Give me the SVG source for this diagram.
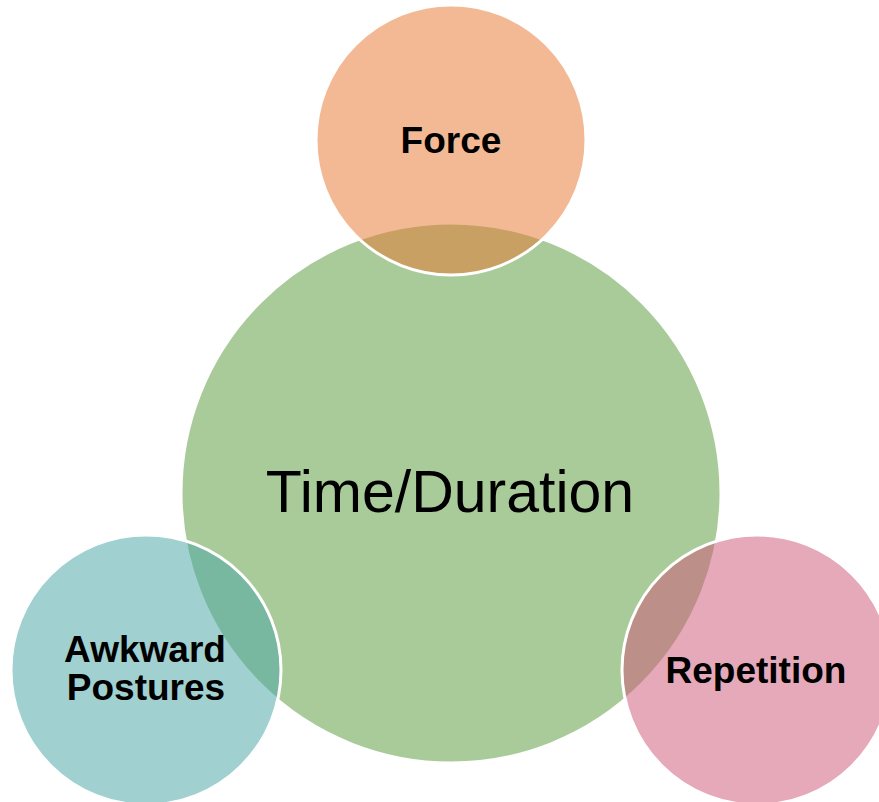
<svg xmlns="http://www.w3.org/2000/svg" width="879" height="802" viewBox="0 0 879 802">
<style>
.sat{stroke:#FFFFFF;stroke-width:3;fill-opacity:0.53}
.lbl{font-family:"Liberation Sans",Arial,sans-serif;font-weight:bold;font-size:37px;fill:#000000;text-anchor:middle}
.main{font-family:"Liberation Sans",Arial,sans-serif;font-size:59px;fill:#000000;text-anchor:middle}
</style>
<rect width="879" height="802" fill="#FFFFFF"/>
<g id="connectors"></g>
<g id="time-duration">
<circle cx="451" cy="493" r="270" fill="#A9CB99" stroke="#FFFFFF" stroke-width="3"/>
<text class="main" x="450" y="512">Time/Duration</text>
</g>
<g id="force">
<circle class="sat" cx="451" cy="140" r="135" fill="rgb(230,123,53)"/>
<text class="lbl" x="451" y="153">Force</text>
</g>
<g id="awkward-postures">
<circle class="sat" cx="146" cy="670" r="135" fill="rgb(78,166,166)"/>
<text class="lbl" x="145" y="662">Awkward</text>
<text class="lbl" x="146" y="700">Postures</text>
</g>
<g id="repetition">
<circle class="sat" cx="757" cy="670" r="135" fill="rgb(206,93,123)"/>
<text class="lbl" x="756" y="683">Repetition</text>
</g>
</svg>
